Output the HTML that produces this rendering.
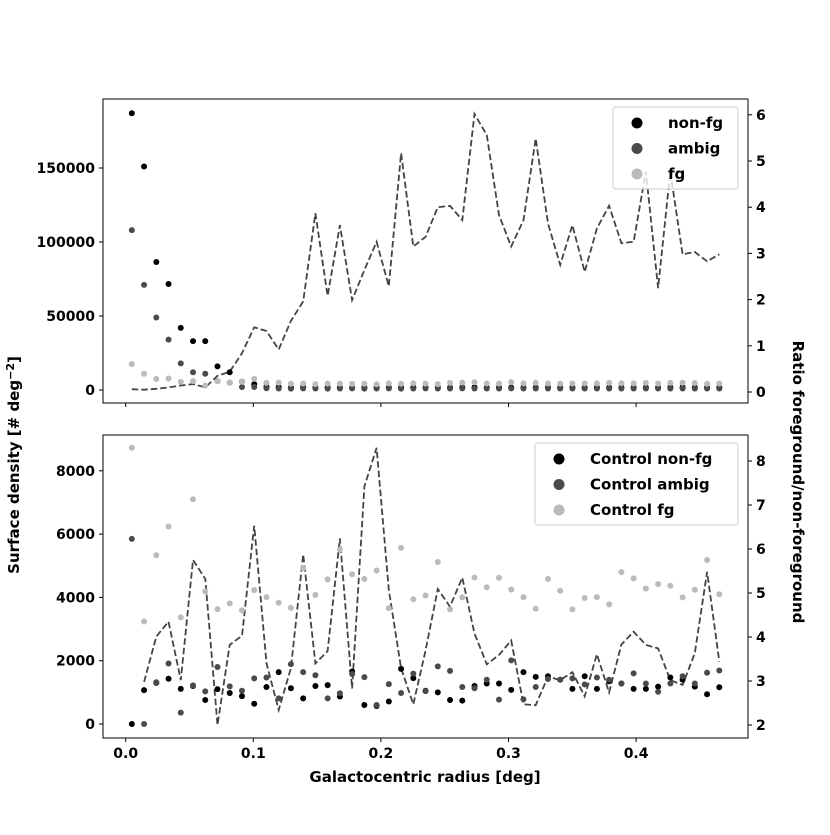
<!DOCTYPE html>
<html><head><meta charset="utf-8"><style>
body{margin:0;background:#fff}
svg text{font-family:"DejaVu Sans","Liberation Sans",sans-serif;font-weight:bold;fill:#000}
</style></head><body>
<svg id="chart" width="830" height="830" viewBox="0 0 830 830" xmlns="http://www.w3.org/2000/svg">
<rect width="830" height="830" fill="#fff"/>
<g id="top"></g>
<g id="bot"></g>
<text x="19" y="465" font-size="15" text-anchor="middle" transform="rotate(-90 19 465)">Surface density [# deg<tspan dy="-5" font-size="11">−2</tspan><tspan dy="5">]</tspan></text>
<text x="793" y="482" font-size="15" text-anchor="middle" transform="rotate(90 793 482)">Ratio foreground/non-foreground</text>
<text x="425" y="782" font-size="15" text-anchor="middle">Galactocentric radius [deg]</text>
</svg>
<script>
const topNonFg=[187000,151000,86500,71600,42000,33000,33000,16000,12000,5600,4000,2200,2000,1800,2000,1700,1900,1800,1600,1700,1800,1700,1900,1800,1700,1800,1700,1800,1900,1700,1800,1700,1800,1700,1800,1700,1800,1700,1800,1700,1800,1700,1800,1700,1800,1900,1800,1700,1800];
const topAmbig=[108000,71000,49000,34000,18000,12000,11000,6000,5000,2000,2000,1200,1000,900,1100,1000,900,1000,1100,900,1000,1100,900,1000,1100,1000,1000,1100,1000,1000,1000,1100,1000,1000,1000,1000,1000,1000,1000,1000,1000,1000,1000,1000,1000,1000,1000,1000,1000];
const topFg=[17500,11000,7500,7800,5500,6000,3000,6000,5000,5500,7500,4800,5000,4200,4400,4000,4300,4300,4100,4200,3900,4500,4200,4600,4300,4000,4800,5000,5200,4500,4400,5300,4500,4900,4500,4300,4400,4500,4500,4800,4600,4500,4800,4300,4800,4900,4700,4200,4400];
const topRatio=[0.06,0.05,0.07,0.1,0.14,0.17,0.1,0.35,0.44,0.84,1.4,1.32,0.92,1.54,1.96,3.87,2.08,3.61,1.99,2.64,3.25,2.29,5.17,3.15,3.36,4.0,4.03,3.72,6.02,5.56,3.83,3.15,3.72,5.49,3.65,2.75,3.61,2.6,3.54,4.03,3.22,3.25,4.77,2.25,4.77,2.98,3.03,2.83,2.98];
const ctlNonFg=[0,1070,1300,1430,1110,1200,760,1100,980,880,640,1170,1640,1130,810,1200,1230,870,1660,600,570,710,1740,1450,1050,1000,760,740,1200,1280,1280,1080,1640,1490,1510,1400,1110,1510,1110,1350,1280,1110,1110,1180,1470,1400,1180,940,1160];
const ctlAmbig=[5850,0,1320,1910,360,1220,1030,1800,1190,1050,1440,1470,810,1890,1640,1540,810,970,1580,1480,600,1260,980,1590,1040,1820,1680,1170,1130,1400,770,2010,780,1170,1420,1400,1440,1250,1470,1400,1280,1600,1280,1020,1280,1510,1280,1620,1690];
const ctlFg=[8730,3240,5330,6240,3370,7100,4190,3630,3810,3590,4230,4010,3830,3670,4920,4080,4570,5510,4730,4580,4850,3660,5570,3940,4060,5120,3620,4000,4630,4320,4620,4250,4010,3640,4580,4210,3620,3980,4010,3780,4800,4600,4280,4420,4370,4000,4240,5180,4100];
const ctlRatio=[null,2.98,4.01,4.35,3.02,5.75,5.32,2.0,3.82,4.03,6.53,3.4,2.34,3.29,5.88,3.4,3.68,6.24,2.83,7.42,8.3,5.07,3.29,2.47,3.7,5.09,4.69,5.35,4.08,3.38,3.59,3.92,2.47,2.45,3.1,3.02,3.2,2.65,3.61,2.74,3.83,4.12,3.82,3.74,3.02,2.91,3.63,5.48,3.44];
const xTicks=[0.0,0.1,0.2,0.3,0.4];
const xTickLabels=["0.0","0.1","0.2","0.3","0.4"];
const topLTicks=[0,50000,100000,150000];
const topRTicks=[0,1,2,3,4,5,6];
const botLTicks=[0,2000,4000,6000,8000];
const botRTicks=[2,3,4,5,6,7,8];

const NS="http://www.w3.org/2000/svg";
const N=49, BW=0.47/N;
const radius=i=>(i+0.5)*BW;
const X=v=>125.7+v*1276;
function mk(p,tag,at){const e=document.createElementNS(NS,tag);for(const k in at)e.setAttribute(k,at[k]);p.appendChild(e);return e;}
const C={non:"#000000",amb:"#4a4a4a",fg:"#bbbbbb"};

function panel(g,y0,y1,YL,YR,lt,rt,series,ratio,legendNames,legend,showXLabels){
  mk(g,"rect",{x:103,y:y0,width:645,height:y1-y0,fill:"none",stroke:"#000","stroke-width":1});
  xTicks.forEach((t,i)=>{
    const tk=mk(g,"line",{x1:X(t),x2:X(t),y1:y1,y2:y1+4,stroke:"#000"});
    
    
    if(showXLabels){const tx=mk(g,"text",{x:X(t),y:y1+20,"font-size":14,"text-anchor":"middle"});tx.textContent=xTickLabels[i];
    
    }
  });
  lt.forEach(t=>{mk(g,"line",{x1:99,x2:103,y1:YL(t),y2:YL(t),stroke:"#000"});
    const tx=mk(g,"text",{x:95,y:YL(t)+5,"font-size":14,"text-anchor":"end"});tx.textContent=t;
    
    });
  rt.forEach(t=>{mk(g,"line",{x1:748,x2:752,y1:YR(t),y2:YR(t),stroke:"#000"});
    const tx=mk(g,"text",{x:756,y:YR(t)+5,"font-size":14});tx.textContent=t;
    
    });
  const cols=[C.non,C.amb,C.fg];
  let d="";ratio.forEach((r,i)=>{if(r===null)return;d+=(d?"L":"M")+X(radius(i)).toFixed(1)+" "+YR(r).toFixed(1);});
  const ln=mk(g,"path",{d:d,fill:"none",stroke:"#444","stroke-width":1.8,"stroke-dasharray":"6.5,3"});
  
  
  series.forEach((s,k)=>{s.forEach((v,i)=>{
    const c=mk(g,"circle",{cx:X(radius(i)),cy:YL(v),r:3,fill:cols[k]});
    
    
  });});
  const lg=mk(g,"g",{});
  
  
  mk(lg,"rect",{x:legend.x,y:legend.y,width:legend.w,height:82,rx:3,fill:"#fff","fill-opacity":0.8,stroke:"#ccc"});
  legendNames.forEach((n,k)=>{
    const yy=legend.y+15+k*25.5;
    mk(lg,"circle",{cx:legend.x+24,cy:yy+1,r:5.5,fill:cols[k]});
    const t=mk(lg,"text",{x:legend.x+55,y:yy+6,"font-size":15});t.textContent=n;
    
    
  });
}
panel(document.getElementById("top"),99,403,v=>390-v*0.00148,r=>392-r*46.2,topLTicks,topRTicks,[topNonFg,topAmbig,topFg],topRatio,["non-fg","ambig","fg"],{x:613,y:107,w:125},false);
panel(document.getElementById("bot"),435,738,v=>724-v*0.03165,r=>725-(r-2)*44,botLTicks,botRTicks,[ctlNonFg,ctlAmbig,ctlFg],ctlRatio,["Control non-fg","Control ambig","Control fg"],{x:535,y:443,w:203},true);
</script>
</body></html>
